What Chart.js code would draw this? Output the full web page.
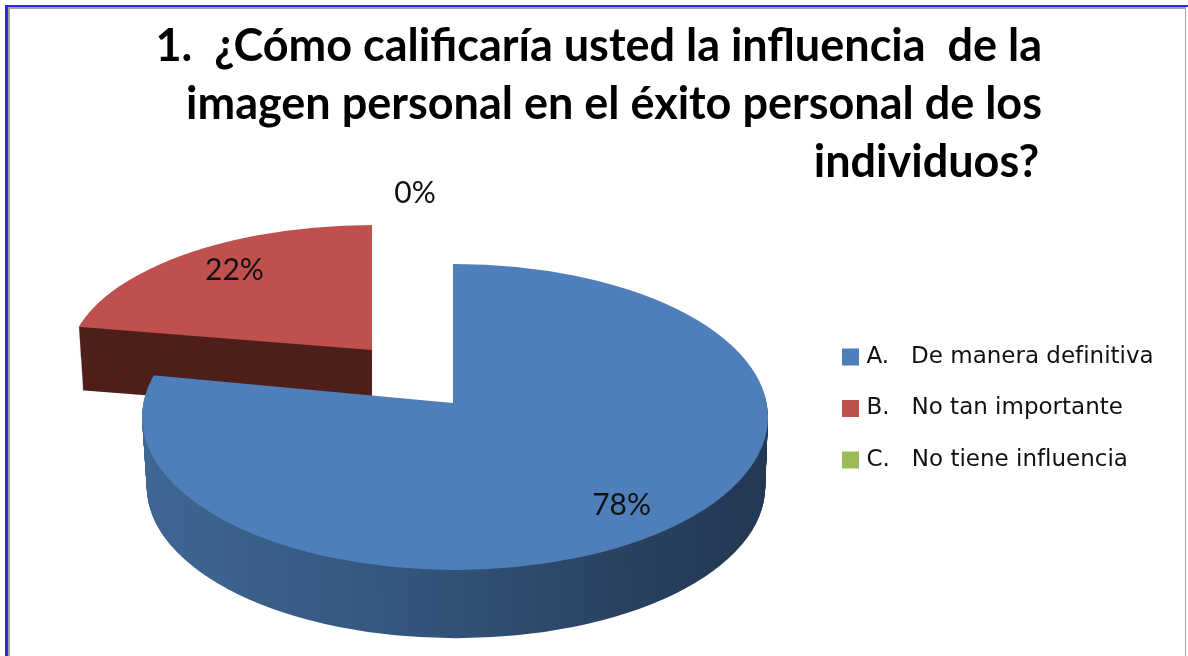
<!DOCTYPE html>
<html lang="es">
<head>
<meta charset="utf-8">
<style>
html,body{margin:0;padding:0;background:#fff;overflow:hidden}
#wrap{position:relative;width:1188px;height:656px}
canvas{position:absolute;left:0;top:0}
.f{position:absolute;pointer-events:none}
</style>
<script src="https://cdn.jsdelivr.net/npm/chart.js@4"></script>
</head>
<body>
<div id="wrap">
<canvas id="c" width="1188" height="656"></canvas>
<div class="f" style="left:5px;top:5px;width:1183px;height:2px;background:#2a2aee"></div>
<div class="f" style="left:5px;top:5px;width:3px;height:651px;background:#2a2aee"></div>
<div class="f" style="left:8px;top:7px;width:1178px;height:2px;background:#a0a0a0"></div>
<div class="f" style="left:8px;top:7px;width:2px;height:649px;background:#a0a0a0"></div>
<div class="f" style="left:1185px;top:7px;width:1px;height:649px;background:#a0a0a0"></div>
</div>
<script>
const titleLines = [
  "1.  ¿Cómo calificaría usted la influencia  de la",
  "imagen personal en el éxito personal de los",
  "individuos?\u200A"
];
const categories = ["A.   De manera definitiva", "B.   No tan importante", "C.   No tiene influencia"];
const values = [78, 22, 0];
const topColors = ["#4f7fba", "#c0504d", "#9bbb59"];
const wallColors = ["#1f344f", "#4f1f1c", "#4a5a2a"];

// view of each slice: apex, outline ellipse of the tilted disc, wedge foreshortening, wall height
const SLICE_VIEW = [
  {ax:453, ay:403, ex:455, ey:417, rx:313, ry:153, aspect:2.06, depth:70, shrink:0.012, drift:1},
  {ax:372, ay:350, ex:373, ey:363, rx:305, ry:138, aspect:2.42, depth:63, shrink:0.017, drift:-1}
];
const DRAW_ORDER = [1, 0];
const LABEL_PLACE = [
  {radial:0.83, dx:3, dy:4},
  {radial:0.80, dx:18, dy:5},
  {radial:1.0, dx:-38, dy:-57}
];

function blueWall(ctx){
  const g = ctx.createLinearGradient(141,0,610,0);
  g.addColorStop(0,"#4a78ad");
  g.addColorStop(0.25,"#3f6794");
  g.addColorStop(0.55,"#33557c");
  g.addColorStop(0.8,"#28405f");
  g.addColorStop(1,"#1f344f");
  return g;
}

function paint(ctx, el, v, xShift, yShift, k, fill){
  const saved = el.options;
  el.options = Object.create(saved, {backgroundColor:{value:fill}});
  const R = el.outerRadius;
  ctx.save();
  ctx.beginPath();
  ctx.ellipse(v.ex + xShift, v.ey + yShift, v.rx * k, v.ry * k, 0, 0, Math.PI * 2);
  ctx.clip();
  ctx.translate(v.ax + xShift, v.ay + yShift);
  const big = 1.5 * v.rx / R;
  ctx.scale(big, big / v.aspect);
  ctx.translate(-el.x, -el.y);
  el.draw(ctx);
  ctx.restore();
  el.options = saved;
}

const pie3d = {
  id: "pie3d",
  afterLayout(chart){
    const t = chart.titleBlock;
    t.left = 0; t.right = 1042; t.top = 17; t.bottom = t.top + t.height;
    const l = chart.legend, pad = l.options.labels.padding;
    const w = l.width, h = l.height;
    l.left = 846 - pad; l.right = l.left + w;
    l.top = 345.5 - pad; l.bottom = l.top + h;
  },
  beforeDatasetsDraw(chart){
    const ctx = chart.ctx;
    const arcs = chart.getDatasetMeta(0).data;
    DRAW_ORDER.forEach(i => {
      const el = arcs[i], v = SLICE_VIEW[i];
      const wall = i === 0 ? blueWall(ctx) : wallColors[i];
      for (let d = v.depth; d >= 1; d--) {
        const f = d / v.depth;
        paint(ctx, el, v, v.drift * f, d, 1 - v.shrink * f, wall);
      }
      paint(ctx, el, v, 0, 0, 1, topColors[i]);
    });
    ctx.save();
    ctx.fillStyle = "#111";
    ctx.font = "30px Lato";
    ctx.textAlign = "center";
    ctx.textBaseline = "middle";
    const total = values.reduce((a, b) => a + b, 0);
    arcs.forEach((el, i) => {
      const v = SLICE_VIEW[i === 2 ? 0 : i], p = LABEL_PLACE[i];
      const mid = (el.startAngle + el.endAngle) / 2;
      const x = v.ax + Math.cos(mid) * p.radial * v.rx + p.dx;
      const y = v.ay + Math.sin(mid) * p.radial * v.ry + p.dy;
      ctx.fillText(Math.round(values[i] / total * 100) + "%", x, y);
    });
    ctx.restore();
    return false;
  }
};

new Chart(document.getElementById("c"), {
  type: "pie",
  data: {
    labels: categories,
    datasets: [{data: values, backgroundColor: topColors, borderWidth: 0}]
  },
  plugins: [pie3d],
  options: {
    responsive: false,
    animation: false,
    layout: {padding: 0},
    plugins: {
      tooltip: {enabled: false},
      title: {
        display: true,
        text: titleLines,
        align: "end",
        color: "#000",
        font: {family: "Lato", size: 45, weight: "bold", lineHeight: 1.29},
        padding: 0
      },
      legend: {
        display: true,
        position: "right",
        align: "start",
        labels: {
          usePointStyle: true, pointStyle: "rect",
          boxWidth: 9, boxHeight: 17, padding: 28.5,
          color: "#111",
          font: {family: "'DejaVu Sans'", size: 23}
        }
      }
    }
  }
});
</script>
</body>
</html>
